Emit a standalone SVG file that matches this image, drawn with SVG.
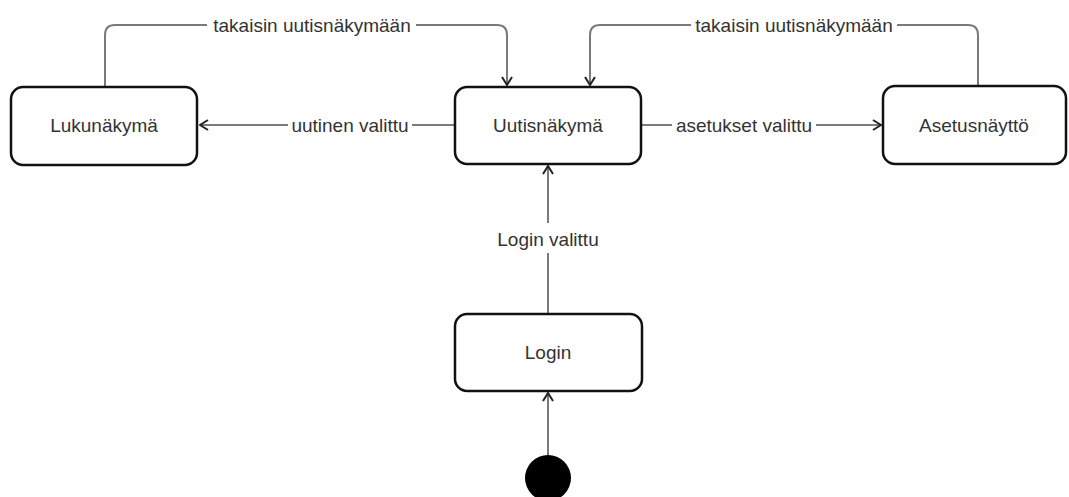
<svg xmlns="http://www.w3.org/2000/svg" width="1069" height="497" viewBox="0 0 1069 497">
  <style>
    .state { fill: #ffffff; stroke: #111111; stroke-width: 2.5; }
    .name { font-family: "Liberation Sans", Arial, sans-serif; font-size: 19px; fill: #333333; text-anchor: middle; }
    .edge { fill: none; stroke: #7a7a7a; stroke-width: 2; }
    .lbl-bg { fill: #ffffff; }
    .lbl { font-family: "Liberation Sans", Arial, sans-serif; font-size: 19px; fill: #333333; text-anchor: middle; }
  </style>
  <defs>
    <marker id="open-arrow" viewBox="0 0 10 12" refX="9" refY="6" markerWidth="10" markerHeight="12" markerUnits="userSpaceOnUse" orient="auto">
      <path d="M1,1 L9,6 L1,11" fill="none" stroke="#222222" stroke-width="2" stroke-linejoin="miter"/>
    </marker>
  </defs>
  <rect width="1069" height="497" fill="#ffffff"/>

  <g id="connectors">
    <!-- Uutisnäkymä to Lukunäkymä -->
    <path class="edge" d="M455,125 H200" marker-end="url(#open-arrow)"/>
    <rect class="lbl-bg" x="288" y="114" width="124" height="22"/>
    <text class="lbl" x="350" y="132">uutinen valittu</text>

    <!-- Uutisnäkymä to Asetusnäyttö -->
    <path class="edge" d="M641,125 H881" marker-end="url(#open-arrow)"/>
    <rect class="lbl-bg" x="672" y="114" width="144" height="22"/>
    <text class="lbl" x="744" y="132">asetukset valittu</text>

    <!-- Lukunäkymä back to Uutisnäkymä -->
    <path class="edge" d="M105,87 V35 Q105,25 115,25 H497 Q507,25 507,35 V85" marker-end="url(#open-arrow)"/>
    <rect class="lbl-bg" x="207" y="14" width="209" height="22"/>
    <text class="lbl" x="312" y="32">takaisin uutisnäkymään</text>

    <!-- Asetusnäyttö back to Uutisnäkymä -->
    <path class="edge" d="M978,86 V35 Q978,25 968,25 H600 Q590,25 590,35 V85" marker-end="url(#open-arrow)"/>
    <rect class="lbl-bg" x="691" y="14" width="206" height="22"/>
    <text class="lbl" x="794" y="32">takaisin uutisnäkymään</text>

    <!-- Login to Uutisnäkymä -->
    <path class="edge" d="M548,314 V166" marker-end="url(#open-arrow)"/>
    <rect class="lbl-bg" x="490" y="223" width="116" height="30"/>
    <text class="lbl" x="548" y="246">Login valittu</text>

    <!-- initial state to Login -->
    <path class="edge" d="M548,455 V393" marker-end="url(#open-arrow)"/>
  </g>

  <g id="lukunakyma">
    <rect class="state" x="11" y="87" width="186" height="78" rx="12" ry="12"/>
    <text class="name" x="104" y="132">Lukunäkymä</text>
  </g>

  <g id="uutisnakyma">
    <rect class="state" x="455" y="87" width="186" height="77" rx="12" ry="12"/>
    <text class="name" x="548" y="132">Uutisnäkymä</text>
  </g>

  <g id="asetusnaytto">
    <rect class="state" x="883" y="86" width="183" height="78" rx="12" ry="12"/>
    <text class="name" x="974" y="132">Asetusnäyttö</text>
  </g>

  <g id="login">
    <rect class="state" x="455" y="314" width="187" height="77" rx="12" ry="12"/>
    <text class="name" x="548" y="359">Login</text>
  </g>

  <g id="initial">
    <circle cx="548" cy="478" r="23" fill="#000000"/>
  </g>
</svg>
